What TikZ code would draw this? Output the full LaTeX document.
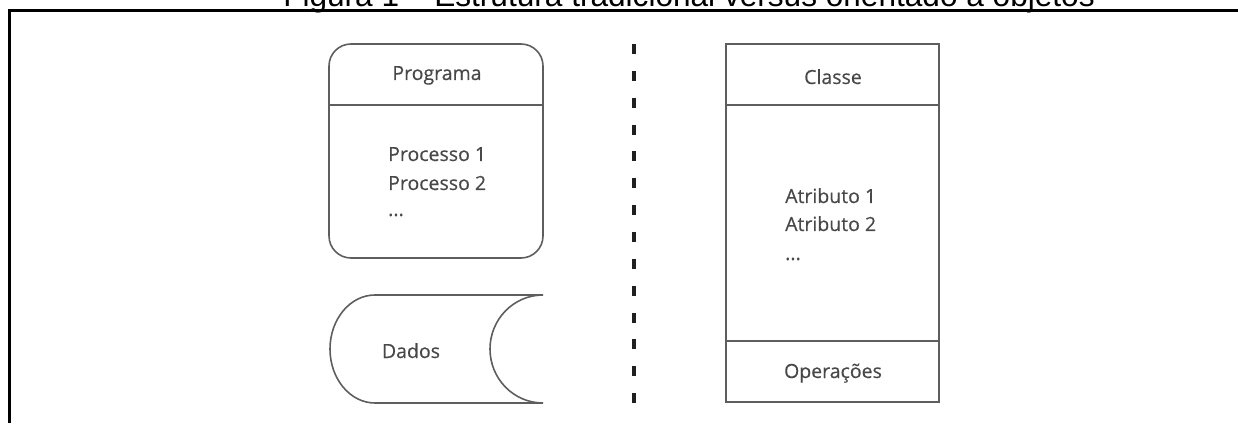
\documentclass[tikz,border=0pt]{standalone}
\usepackage{fontspec}
\setmainfont{Open Sans}
\newfontfamily\lblfont{Open Sans}[FakeBold=0.4]
\newfontfamily\titlefont{Liberation Sans}
\begin{document}
\begin{tikzpicture}[x=1pt,y=1pt,
  box/.style={draw=boxgray, line width=1.6pt, inner sep=0pt},
  lbl/.style={text=txtgray, inner sep=0pt, font=\lblfont\fontsize{19.5}{23}\selectfont},
  divider/.style={draw=boxgray, line width=1.6pt},
  frameline/.style={draw=black, line width=3pt},
  sepline/.style={draw=sepgray, line width=4pt, dash pattern=on 10pt off 16.85pt}]
\definecolor{boxgray}{HTML}{5E5E5E}
\definecolor{txtgray}{HTML}{484848}
\definecolor{sepgray}{HTML}{202020}
\useasboundingbox (0,0) rectangle (1238,423);
\clip (0,0) rectangle (1238,423);

% outer frame and caption
\draw[frameline] (9.5,0) -- (9.5,412.5) -- (1238,412.5);
\node[anchor=base, inner sep=0pt, font=\titlefont\fontsize{31.6}{36}\selectfont] (title) at (689,416)
  {Figura 1 – Estrutura tradicional versus orientado a objetos};

% program block
\node[box, rounded corners=22pt, minimum width=214pt, minimum height=214pt] (prog) at (436,272) {};
\draw[divider] (prog.west |- 0,318) -- (prog.east |- 0,318);
\node[lbl, anchor=base] (progt) at (437,343) {Programa};
\node[lbl, anchor=base west] (p1) at (388,262) {Processo 1};
\node[lbl, anchor=base west] (p2) at (388,233) {Processo 2};
\node[lbl, anchor=base west] (p3) at (388,207) {...};

% data store
\draw[box] (543,128) -- (375,128)
  arc[start angle=90, end angle=270, x radius=45, y radius=54]
  -- (543,20)
  arc[start angle=270, end angle=90, x radius=53, y radius=54];
\node[lbl, anchor=base] (dados) at (411,65) {Dados};

% separator
\coordinate (septop) at (634,379);
\coordinate (sepbot) at (634,18);
\draw[sepline] (septop) -- (sepbot);

% class block
\node[box, minimum width=213pt, minimum height=358pt] (cls) at (832.5,200) {};
\draw[divider] (cls.west |- 0,318) -- (cls.east |- 0,318);
\draw[divider] (cls.west |- 0,82) -- (cls.east |- 0,82);
\node[lbl, anchor=base] (clst) at (833,339) {Classe};
\node[lbl, anchor=base west] (a1) at (785,220) {Atributo 1};
\node[lbl, anchor=base west] (a2) at (785,192) {Atributo 2};
\node[lbl, anchor=base west] (a3) at (785,163) {...};
\node[lbl, anchor=base] (ops) at (833,45) {Operações};
\end{tikzpicture}
\end{document}
